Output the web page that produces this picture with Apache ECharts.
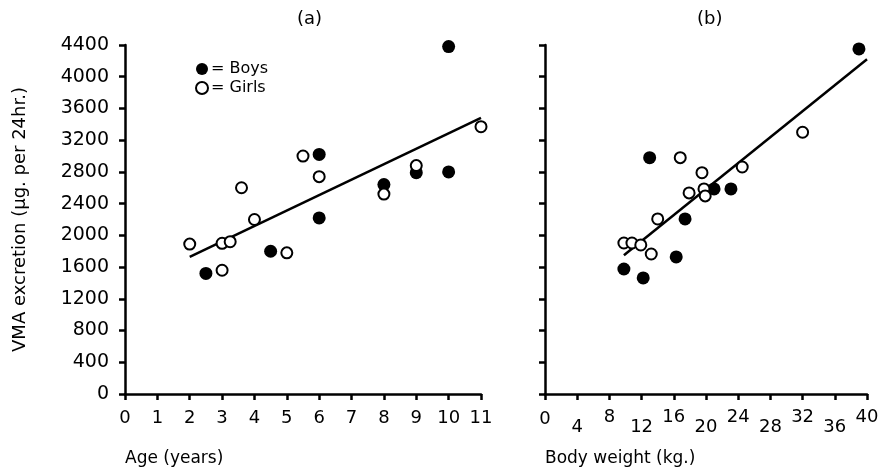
<!DOCTYPE html>
<html>
<head>
<meta charset="utf-8">
<script src="https://cdn.jsdelivr.net/npm/echarts@6/dist/echarts.min.js"></script>
<style>
html,body{margin:0;padding:0;background:#fff;}
#chart{width:882px;height:471px;}
</style>
</head>
<body>
<div id="chart"></div>
<script>
// Panel (a): VMA excretion vs age
const boysAge = [[10, 4380], [6, 3020], [6, 2220], [8, 2640], [9, 2790], [10, 2800], [2.5, 1520], [4.5, 1800]];
const girlsAge = [[5.5, 3000], [6, 2740], [3.6, 2600], [4, 2200], [8, 2520], [9, 2880], [11, 3370], [2, 1890], [3, 1900], [3.25, 1920], [3, 1560], [5, 1780]];
const fitAge = [[2, 1730], [11, 3480]];

// Panel (b): VMA excretion vs body weight
const boysWeight = [[39, 4350], [13, 2980], [21, 2585], [23.1, 2585], [17.4, 2207], [16.3, 1728], [9.8, 1576], [12.2, 1463]];
const girlsWeight = [[32, 3300], [16.8, 2980], [19.5, 2790], [24.5, 2862], [17.9, 2535], [19.75, 2585], [19.9, 2497], [14, 2207], [9.8, 1904], [10.8, 1904], [11.9, 1879], [13.2, 1765]];
const fitWeight = [[9.8, 1750], [40, 4220]];

const yTicks = [0, 400, 800, 1200, 1600, 2000, 2400, 2800, 3200, 3600, 4000, 4400];
const ageTicks = [0, 1, 2, 3, 4, 5, 6, 7, 8, 9, 10, 11];
const weightTicks = [0, 4, 8, 12, 16, 20, 24, 28, 32, 36, 40];
const weightLow = [4, 12, 20, 28, 36];

const FONT = 'DejaVu Sans';
const axisLine = {show: true, lineStyle: {color: '#000', width: 2.5}};
const axisTick = {show: true, inside: false, length: 6, lineStyle: {color: '#000', width: 2.5}};

const chart = echarts.init(document.getElementById('chart'));
chart.setOption({
  animation: false,
  backgroundColor: '#fff',
  title: [
    {text: '(a)', left: 292, top: 5, textStyle: {fontFamily: FONT, fontSize: 18, fontWeight: 'normal', color: '#000'}},
    {text: '(b)', left: 692, top: 5, textStyle: {fontFamily: FONT, fontSize: 18, fontWeight: 'normal', color: '#000'}}
  ],
  legend: {
    orient: 'vertical', left: 190, top: 56, itemGap: 3, itemWidth: 12, itemHeight: 12,
    formatter: '= {name}',
    textStyle: {fontFamily: FONT, fontSize: 16, color: '#000', padding: [0, 0, 0, -2]},
    data: [
      {name: 'Boys', icon: 'circle', itemStyle: {color: '#000', borderWidth: 0}},
      {name: 'Girls', icon: 'circle', itemStyle: {color: '#fff', borderColor: '#000', borderWidth: 2}}
    ]
  },
  grid: [
    {left: 125, top: 45, width: 356, height: 349},
    {left: 545, top: 45, width: 322, height: 349}
  ],
  xAxis: [
    {
      gridIndex: 0, type: 'value', min: 0, max: 11, interval: 1,
      axisLine: axisLine, axisTick: axisTick, splitLine: {show: false},
      axisLabel: {margin: 15, fontFamily: FONT, fontSize: 18, color: '#000',
        formatter: v => ageTicks.includes(v) ? String(v) : ''}
    },
    {
      gridIndex: 1, type: 'value', min: 0, max: 40, interval: 4,
      axisLine: axisLine, axisTick: axisTick, splitLine: {show: false},
      axisLabel: {margin: 14, fontFamily: FONT, fontSize: 18, color: '#000',
        formatter: v => weightLow.includes(v) ? '{lo|' + v + '}' : (v === 0 ? '{z|0}' : '{hi|' + v + '}'),
        rich: {
          lo: {fontFamily: FONT, fontSize: 18, color: '#000', padding: [10, 0, 0, 0]},
          hi: {fontFamily: FONT, fontSize: 18, color: '#000', padding: [0, 0, 0, 0]},
          z: {fontFamily: FONT, fontSize: 18, color: '#000', padding: [2, 0, 0, 0]}
        }
      }
    }
  ],
  yAxis: [
    {
      gridIndex: 0, type: 'value', min: 0, max: 4400, interval: 400,
      axisLine: axisLine, axisTick: axisTick, splitLine: {show: false},
      axisLabel: {margin: 16, fontFamily: FONT, fontSize: 19, color: '#000',
        formatter: v => yTicks.includes(v) ? String(v) : ''},
      name: 'VMA excretion (µg. per 24hr.)', nameLocation: 'middle', nameGap: 96,
      nameTextStyle: {fontFamily: FONT, fontSize: 18, color: '#000'}
    },
    {
      gridIndex: 1, type: 'value', min: 0, max: 4400, interval: 400,
      axisLine: axisLine, axisTick: axisTick, splitLine: {show: false},
      axisLabel: {show: false}
    }
  ],
  graphic: [
    {type: 'text', left: 125, top: 450, style: {text: 'Age (years)', fontFamily: FONT, fontSize: 17, fill: '#000'}},
    {type: 'text', left: 545, top: 450, style: {text: 'Body weight (kg.)', fontFamily: FONT, fontSize: 17, fill: '#000'}}
  ],
  series: [
    {name: 'Boys', type: 'scatter', xAxisIndex: 0, yAxisIndex: 0, data: boysAge, symbol: 'circle', symbolSize: 13,
      itemStyle: {color: '#000', opacity: 1}, z: 3},
    {name: 'Girls', type: 'scatter', xAxisIndex: 0, yAxisIndex: 0, data: girlsAge, symbol: 'circle', symbolSize: 11,
      itemStyle: {color: '#fff', borderColor: '#000', borderWidth: 2, opacity: 1}, z: 4},
    {name: 'fitA', type: 'line', xAxisIndex: 0, yAxisIndex: 0, data: fitAge, showSymbol: false, symbol: 'none',
      lineStyle: {color: '#000', width: 2.5}, z: 2},
    {name: 'Boys', type: 'scatter', xAxisIndex: 1, yAxisIndex: 1, data: boysWeight, symbol: 'circle', symbolSize: 13,
      itemStyle: {color: '#000', opacity: 1}, z: 3},
    {name: 'Girls', type: 'scatter', xAxisIndex: 1, yAxisIndex: 1, data: girlsWeight, symbol: 'circle', symbolSize: 11,
      itemStyle: {color: '#fff', borderColor: '#000', borderWidth: 2, opacity: 1}, z: 4},
    {name: 'fitB', type: 'line', xAxisIndex: 1, yAxisIndex: 1, data: fitWeight, showSymbol: false, symbol: 'none',
      lineStyle: {color: '#000', width: 2.5}, z: 2}
  ]
});
</script>
</body>
</html>
